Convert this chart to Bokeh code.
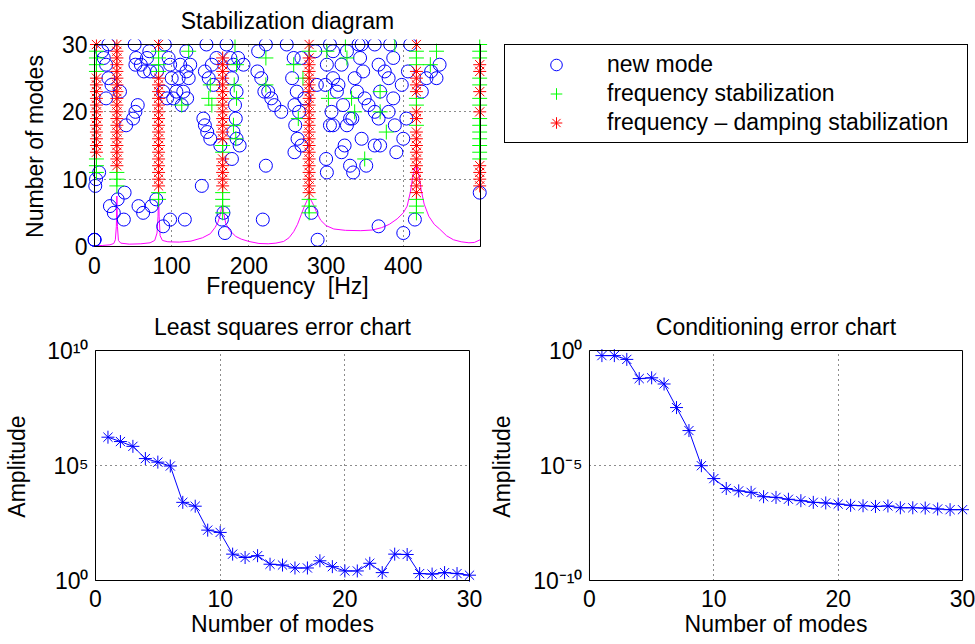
from bokeh.plotting import figure
from bokeh.layouts import row, column
from bokeh.models import (FixedTicker, CustomJSTickFormatter, BoxAnnotation,
                          Legend, LegendItem, Range1d)
from bokeh.embed import file_html
from bokeh.resources import INLINE

FONT = "Liberation Sans"
FS = "23px"

# ------------------------------------------------------------------ data
# Stabilization diagram: frequency response curve (magenta), scaled to order axis
frf_freq = [0, 10, 20, 25, 27, 28.3, 29, 29.7, 31, 34, 45, 60, 72, 78, 81, 82.3, 83, 83.7, 85, 88,
            95, 110, 125, 140, 150, 156, 160, 163, 165, 166, 167.5, 170, 175, 183, 190, 200, 213, 225,
            235, 245, 252, 258, 263, 268, 272, 276, 278, 280, 284, 288, 293, 300, 310, 325, 345, 360,
            372, 382, 392, 400, 405, 409, 413, 416, 418, 420, 423, 427, 433, 440, 447, 456, 465, 475,
            485, 492, 499.5]
frf_amp = [0.1, 0.15, 0.25, 0.45, 1.0, 3.0, 7.5, 3.0, 0.9, 0.5, 0.35, 0.4, 0.55, 0.9, 2.0, 4.5, 8.0,
           4.5, 1.6, 0.9, 0.7, 0.65, 0.8, 1.3, 1.9, 2.8, 3.6, 4.8, 6.0, 6.2, 5.0, 3.4, 2.4, 1.5, 1.1,
           0.75, 0.45, 0.4, 0.5, 0.75, 1.3, 2.2, 3.3, 4.8, 6.0, 7.0, 7.3, 7.0, 6.1, 5.0, 3.9, 3.1, 2.6,
           2.4, 2.35, 2.45, 2.8, 3.3, 4.1, 5.0, 6.0, 8.0, 10.8, 12.0, 11.8, 10.8, 8.5, 6.3, 4.5, 3.3,
           2.6, 1.6, 1.0, 0.7, 0.55, 0.6, 1.0]

# new modes (blue circles): frequency [Hz] and model order
new_freq = [0, 0, 0, 1, 2, 6, 10, 18, 12, 15, 18, 22, 15, 33, 20, 25, 30, 38, 39, 41, 50, 53, 56,
            52, 54, 53, 60, 64, 68, 71, 72, 57, 63, 74, 80,
            81, 91, 96, 98, 100, 89, 94, 102, 106, 109, 111, 115, 113, 119, 120, 122, 124, 119,
            89, 98, 117,
            145, 171, 143, 148, 152, 154, 158, 141, 143, 146, 150, 163, 139, 165, 167, 169, 176,
            180, 178, 184, 182, 183, 180, 184, 178, 188, 186, 193,
            212, 222, 211, 216, 220, 225, 229, 233, 242, 222, 218, 249, 256, 258,
            262, 259, 265, 260, 263, 259, 268, 272, 268, 281, 289, 286, 288, 300, 301,
            305, 309, 299, 301, 309, 307, 305, 309, 314, 316, 320, 327, 322, 327, 320, 324, 331,
            334, 331, 335, 337, 340, 342, 346, 344, 348, 350, 346, 352, 355, 363, 368, 370, 363,
            368, 363, 370, 368, 376, 383, 387, 381, 387, 381, 389, 391, 400, 400, 404, 398, 406,
            409,
            415, 424, 430, 436, 443, 447, 499]
new_order = [1, 1, 1, 9, 10, 11, 29, 30, 28, 27, 25, 24, 22, 23, 6, 5, 7, 4, 8, 18, 19, 20, 21,
             30, 28, 27, 27, 26, 28, 29, 26, 6, 5, 6, 7,
             26, 30, 28, 27, 25, 23, 22, 22, 23, 25, 27, 23, 21, 26, 22, 25, 27, 29,
             3, 4, 4,
             30, 30, 26, 25, 27, 24, 28, 19, 18, 17, 16, 15, 9, 4, 5, 2, 28,
             27, 25, 23, 21, 19, 17, 16, 13, 15, 28, 27,
             29, 30, 26, 25, 23, 23, 22, 21, 20, 12, 4, 30, 25, 28,
             23, 21, 20, 18, 16, 14, 15, 22, 28, 5, 1, 29, 24, 13, 11,
             30, 29, 24, 27, 25, 20, 18, 18, 23, 24, 27, 29, 21, 18, 14, 15, 19,
             19, 12, 11, 25, 23, 30, 30, 28, 26, 22, 16, 12, 21, 30, 27, 23, 20,
             19, 15, 15, 3, 26, 30, 28, 25, 22, 20, 18, 14, 16, 2, 19, 24, 26,
             30,
             4, 23, 25, 26, 25, 27, 8]

# stable pole columns (frequency [Hz]) and the orders at which they are stable
col_freq = [2.5, 29, 83, 166, 278, 417, 499]
fd_orders = [  # frequency - damping stabilization (red *)
    [30, 25, 24, 23, 22, 21, 20, 19, 18, 17, 16, 15, 14],
    [30, 29, 28, 27, 26, 25, 24, 23, 22, 21, 20, 19, 18, 17, 16, 15, 14, 13, 12],
    [30, 25, 24, 23, 22, 21, 20, 19, 18, 17, 16, 15, 14, 13, 12, 11, 10, 9],
    [28, 27, 26, 25, 24, 23, 22, 21, 20, 19, 18, 17, 16, 13, 12, 11, 10, 9],
    [30, 28, 27, 26, 25, 24, 23, 22, 21, 20, 19, 18, 17, 16, 15, 14, 13, 12, 11, 10, 9, 8],
    [30, 26, 25, 24, 23, 20, 19, 17, 16, 15, 14, 13, 12, 11, 10, 9, 8],
    [27, 26, 23, 20, 12, 11, 10, 9],
]
f_orders = [  # frequency stabilization (green +)
    [29, 28, 27, 26, 13, 12, 11],
    [11, 10, 9],
    [29, 28, 27, 26, 8, 7],
    [15, 14, 8, 7, 6, 5],
    [29, 7, 6, 5],
    [29, 28, 27, 22, 21, 18, 7, 6, 5],
    [30, 29, 28, 25, 24, 22, 21, 19, 18, 17, 16, 15, 14, 13],
]
# isolated frequency-stable poles (green +)
fs_freq = [113, 122, 150, 152, 148, 182, 184, 181, 184, 180, 183, 222, 222, 258, 264, 270, 301,
           303, 325, 327, 333, 337, 350, 370, 370, 378, 389, 443, 435]
fs_order = [21, 29, 24, 21, 22, 30, 27, 24, 22, 18, 16, 28, 24, 27, 19, 25, 29,
            22, 30, 28, 22, 20, 13, 23, 20, 17, 30, 29, 27]

# error charts
modes = [1, 2, 3, 4, 5, 6, 7, 8, 9, 10, 11, 12, 13, 14, 15, 16, 17, 18, 19, 20,
         21, 22, 23, 24, 25, 26, 27, 28, 29, 30]
ls_err = [1.7e6, 1.1e6, 6.8e5, 2.0e5, 1.4e5, 9.5e4, 2.5e3, 1.7e3, 155, 123, 14, 10, 12, 5.1, 4.7,
          3.5, 3.5, 7.2, 4.0, 2.6, 2.6, 5.6, 2.2, 14, 13.5, 2.0, 1.9, 2.2, 2.0, 1.7]
cond_err = [0.6, 0.6, 0.41, 0.06, 0.065, 0.035, 3.3e-3, 3.3e-4, 9.8e-6, 2.7e-6, 1.0e-6, 7.9e-7,
            6.8e-7, 4.4e-7, 4.1e-7, 3.4e-7, 2.95e-7, 2.5e-7, 2.35e-7, 2.1e-7, 1.86e-7, 1.78e-7,
            1.66e-7, 1.74e-7, 1.45e-7, 1.45e-7, 1.41e-7, 1.29e-7, 1.2e-7, 1.2e-7]

stab_xticks = [0, 100, 200, 300, 400]
stab_yticks = [0, 10, 20, 30]
err_xticks = [0, 10, 20, 30]
ls_yticks = [1, 1e5, 1e10]
cond_yticks = [1e-10, 1e-5, 1]

# ------------------------------------------------------------------ helpers
PAD = 7      # px of room around each axes box so edge markers are not clipped
PAD_TOP = 5  # smaller room above the box (title panel sits there)

sup_js = """
const sup = {"-": "\\u207B", "0": "\\u2070", "1": "\\u00B9", "2": "\\u00B2", "3": "\\u00B3",
             "4": "\\u2074", "5": "\\u2075", "6": "\\u2076", "7": "\\u2077", "8": "\\u2078",
             "9": "\\u2079"};
const e = Math.round(Math.log10(tick));
return "10" + String(e).split("").map(c => sup[c]).join("");
"""


def style_axis(ax, ticks, standoff, label, label_standoff, log=False):
    ax.ticker = FixedTicker(ticks=ticks)
    if log:
        ax.formatter = CustomJSTickFormatter(code=sup_js)
    ax.axis_line_color = None
    ax.major_tick_in = 0
    ax.major_tick_out = 0
    ax.minor_tick_in = 0
    ax.minor_tick_out = 0
    ax.major_label_standoff = standoff
    ax.major_label_text_font = FONT
    ax.major_label_text_font_size = FS
    ax.major_label_text_color = "black"
    ax.axis_label = label
    ax.axis_label_text_font = FONT
    ax.axis_label_text_font_size = FS
    ax.axis_label_text_font_style = "normal"
    ax.axis_label_text_color = "black"
    ax.axis_label_standoff = label_standoff


def style_grid(p, xb, yb):
    for g in (p.xgrid, p.ygrid):
        g.grid_line_color = "black"
        g.grid_line_dash = "1 4"
        g.grid_line_width = 1
        g.grid_line_alpha = 0.9
    try:
        p.xgrid.cross_bounds = yb
        p.ygrid.cross_bounds = xb
    except Exception:
        pass


def style_title(p):
    p.title.text_font = FONT
    p.title.text_font_size = FS
    p.title.text_font_style = "normal"
    p.title.text_color = "black"
    p.title.align = "center"
    p.title.standoff = 11


def box(p, l, r, b, t):
    p.add_layout(BoxAnnotation(left=l, right=r, bottom=b, top=t, fill_color=None,
                               line_color="black", line_width=1, line_alpha=1))


# ------------------------------------------------------------------ stabilization diagram
bx_w, bx_h = 386, 202          # axes box size in px
xpad = PAD * 500 / bx_w
p1 = figure(width=490, height=306, min_border_left=87, min_border_right=3,
            min_border_top=39, min_border_bottom=53,
            x_range=Range1d(0 - xpad, 500 + xpad),
            y_range=Range1d(0 - PAD * 30 / bx_h, 30 + PAD_TOP * 30 / bx_h),
            title="Stabilization diagram", output_backend="svg", toolbar_location=None)
p1.outline_line_color = None
style_title(p1)
style_axis(p1.xaxis[0], stab_xticks, 3, "Frequency\u00a0 [Hz]", -4)
style_axis(p1.yaxis[0], stab_yticks, 0, "Number of modes", 11)
style_grid(p1, (0, 500), (0, 30))

fd_x = [f for f, ords in zip(col_freq, fd_orders) for o in ords]
fd_y = [o for f, ords in zip(col_freq, fd_orders) for o in ords]
f_x = [f for f, ords in zip(col_freq, f_orders) for o in ords] + fs_freq
f_y = [o for f, ords in zip(col_freq, f_orders) for o in ords] + fs_order

p1.line(frf_freq, frf_amp, line_color="#ff00ff", line_width=1)
p1.scatter(new_freq, new_order, marker="circle", size=13, fill_color=None,
           line_color="#0000ff", line_width=1)
p1.scatter(f_x, f_y, marker="cross", size=15, line_color="#00ff00", line_width=1)
p1.scatter(fd_x, fd_y, marker="asterisk", size=13, line_color="#ff0000", line_width=1)
box(p1, 0, 500, 0, 30)

# ------------------------------------------------------------------ legend panel
pleg = figure(width=485, height=306, min_border_left=9, min_border_right=0,
              min_border_top=39, min_border_bottom=53,
              x_range=Range1d(0, 1), y_range=Range1d(0, 1),
              x_axis_location=None, y_axis_location=None,
              output_backend="svg", toolbar_location=None)
pleg.grid.visible = False
pleg.outline_line_color = None
rc = pleg.scatter([-5], [-5], marker="circle", size=13, fill_color=None,
                  line_color="#0000ff", line_width=1)
rp = pleg.scatter([-5], [-5], marker="cross", size=15, line_color="#00ff00", line_width=1)
rs = pleg.scatter([-5], [-5], marker="asterisk", size=13, line_color="#ff0000", line_width=1)
leg = Legend(items=[LegendItem(label="new mode", renderers=[rc]),
                    LegendItem(label="frequency stabilization", renderers=[rp]),
                    LegendItem(label="frequency \u2013 damping stabilization", renderers=[rs])],
             location="top_left", margin=5, padding=5, spacing=0,
             glyph_width=92, glyph_height=29, label_height=29, label_width=355,
             label_standoff=5, label_text_font=FONT, label_text_font_size=FS,
             label_text_color="black", border_line_color="black", border_line_width=1,
             border_line_alpha=1, background_fill_color="white", background_fill_alpha=1)
pleg.add_layout(leg)

# ------------------------------------------------------------------ error charts
eb_w, eb_h = 374, 230
expad = PAD * 30 / eb_w
dec_bot = PAD * 10 / eb_h
dec_top = PAD_TOP * 10 / eb_h

p2 = figure(width=486, height=338, min_border_left=88, min_border_right=10,
            min_border_top=39, min_border_bottom=57, y_axis_type="log",
            x_range=Range1d(0 - expad, 30 + expad),
            y_range=Range1d(10 ** (0 - dec_bot), 10 ** (10 + dec_top)),
            title="Least squares error chart", output_backend="svg", toolbar_location=None)
p2.outline_line_color = None
style_title(p2)
style_axis(p2.xaxis[0], err_xticks, 2, "Number of modes", 1)
style_axis(p2.yaxis[0], ls_yticks, 0, "Amplitude", 14, log=True)
style_grid(p2, (0, 30), (1, 1e10))
p2.line(modes, ls_err, line_color="#0000ff", line_width=1)
p2.scatter(modes, ls_err, marker="asterisk", size=13, line_color="#0000ff", line_width=1)
box(p2, 0, 30, 1, 1e10)

p3 = figure(width=489, height=338, min_border_left=95, min_border_right=6,
            min_border_top=39, min_border_bottom=57, y_axis_type="log",
            x_range=Range1d(0 - expad, 30 + expad),
            y_range=Range1d(10 ** (-10 - dec_bot), 10 ** (0 + dec_top)),
            title="Conditioning error chart", output_backend="svg", toolbar_location=None)
p3.outline_line_color = None
style_title(p3)
style_axis(p3.xaxis[0], err_xticks, 2, "Number of modes", 1)
style_axis(p3.yaxis[0], cond_yticks, 0, "Amplitude", 15, log=True)
style_grid(p3, (0, 30), (1e-10, 1))
p3.line(modes, cond_err, line_color="#0000ff", line_width=1)
p3.scatter(modes, cond_err, marker="asterisk", size=13, line_color="#0000ff", line_width=1)
box(p3, 0, 30, 1e-10, 1)

layout = column(row(p1, pleg, spacing=0), row(p2, p3, spacing=0), spacing=0)

open("out.html", "w").write(file_html(layout, INLINE))
